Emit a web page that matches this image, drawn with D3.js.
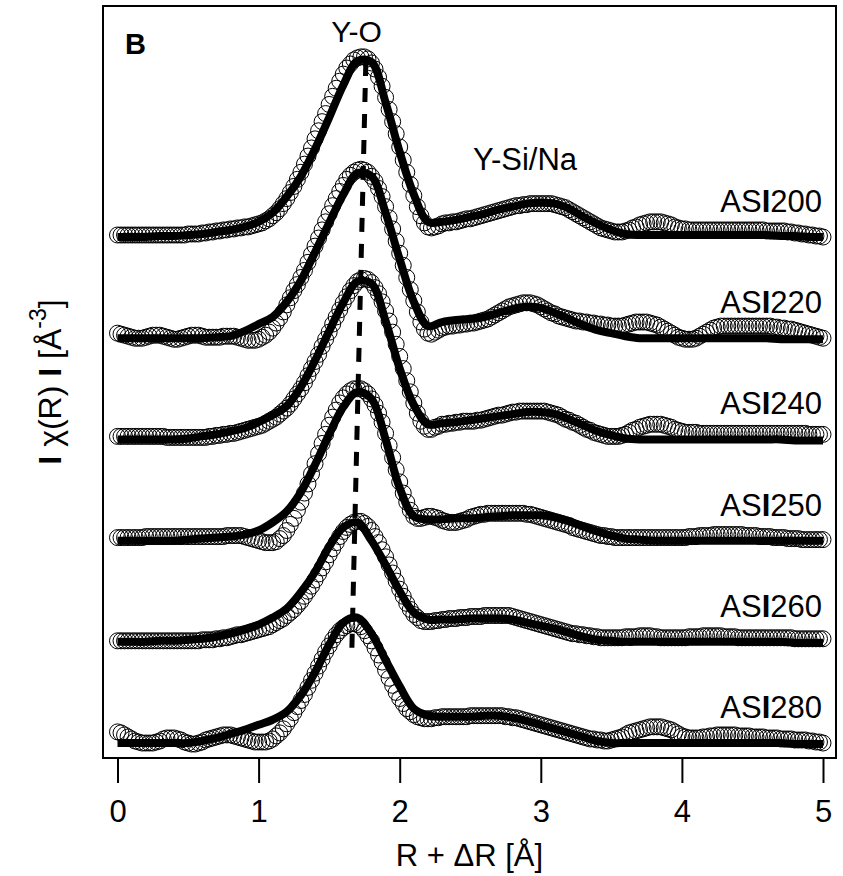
<!DOCTYPE html>
<html>
<head>
<meta charset="utf-8">
<script src="https://cdn.jsdelivr.net/npm/d3@7"></script>
<style>
  body { margin: 0; background: #fff; }
  text { font-family: "Liberation Sans", Arial, Helvetica, sans-serif; fill: #000; }
</style>
</head>
<body>
<svg id="chart" width="843" height="876"></svg>
<script>
// sample names, vertical offsets of each trace and x ticks
var samples = ['ASI200', 'ASI220', 'ASI240', 'ASI250', 'ASI260', 'ASI280']
var offsets = [5, 4, 3, 2, 1, 0]
var xTicks = [0, 1, 2, 3, 4, 5]

// R grids: measured points every 0.025 A, fit every 0.1 A
var rData = d3.range(201).map(i => i * 0.025)
var rFit = d3.range(51).map(i => i * 0.1)

var data200 = [0.02,0.02,0.02,0.02,0.02,0.02,0.02,0.02,0.02,0.02,
  0.02,0.02,0.02,0.02,0.02,0.02,0.02,0.02,0.02,0.02,
  0.03,0.03,0.03,0.03,0.04,0.04,0.05,0.05,0.06,0.06,
  0.07,0.07,0.08,0.08,0.09,0.09,0.10,0.10,0.11,0.12,
  0.13,0.14,0.16,0.18,0.21,0.24,0.28,0.33,0.38,0.44,
  0.50,0.57,0.64,0.72,0.80,0.88,0.97,1.05,1.14,1.22,
  1.31,1.39,1.47,1.54,1.61,1.67,1.71,1.75,1.77,1.78,
  1.78,1.76,1.72,1.66,1.58,1.49,1.38,1.26,1.14,1.02,
  0.89,0.76,0.64,0.52,0.41,0.30,0.21,0.14,0.10,0.09,
  0.10,0.11,0.13,0.14,0.14,0.15,0.15,0.16,0.17,0.18,
  0.18,0.19,0.20,0.21,0.22,0.23,0.24,0.25,0.26,0.27,
  0.28,0.29,0.30,0.31,0.31,0.32,0.32,0.33,0.33,0.33,
  0.33,0.33,0.33,0.33,0.32,0.31,0.30,0.29,0.27,0.25,
  0.23,0.21,0.19,0.17,0.15,0.13,0.11,0.09,0.08,0.07,
  0.06,0.05,0.05,0.05,0.06,0.07,0.09,0.10,0.12,0.13,
  0.14,0.15,0.15,0.15,0.15,0.14,0.13,0.12,0.10,0.09,
  0.08,0.08,0.07,0.07,0.07,0.07,0.07,0.07,0.07,0.07,
  0.07,0.07,0.07,0.07,0.07,0.07,0.07,0.07,0.07,0.07,
  0.07,0.07,0.07,0.07,0.06,0.06,0.06,0.06,0.06,0.06,
  0.05,0.05,0.04,0.04,0.03,0.03,0.02,0.02,0.01,0.01,
  0.00]
var data220 = [0.05,0.04,0.03,0.02,0.01,0.00,0.00,0.00,0.01,0.02,
  0.03,0.03,0.03,0.02,0.01,0.00,-0.01,-0.01,0.00,0.01,
  0.02,0.03,0.03,0.03,0.02,0.01,0.01,0.01,0.01,0.01,
  0.02,0.02,0.02,0.02,0.01,0.00,-0.01,-0.02,-0.02,-0.02,
  -0.01,0.01,0.03,0.06,0.10,0.15,0.20,0.26,0.33,0.40,
  0.47,0.53,0.60,0.67,0.75,0.83,0.91,0.99,1.07,1.15,
  1.23,1.31,1.38,1.45,1.51,1.57,1.61,1.64,1.66,1.67,
  1.66,1.64,1.60,1.55,1.48,1.40,1.30,1.19,1.08,0.96,
  0.84,0.72,0.60,0.48,0.37,0.26,0.16,0.09,0.05,0.04,
  0.06,0.08,0.10,0.11,0.12,0.12,0.13,0.13,0.14,0.14,
  0.15,0.15,0.16,0.17,0.18,0.19,0.21,0.23,0.25,0.27,
  0.29,0.31,0.32,0.33,0.34,0.35,0.35,0.35,0.34,0.33,
  0.31,0.29,0.27,0.25,0.24,0.22,0.21,0.20,0.19,0.18,
  0.17,0.17,0.16,0.16,0.15,0.15,0.14,0.14,0.13,0.13,
  0.12,0.12,0.12,0.12,0.13,0.14,0.15,0.16,0.16,0.16,
  0.16,0.15,0.14,0.13,0.11,0.09,0.07,0.05,0.03,0.01,
  0.00,-0.01,-0.01,-0.01,0.00,0.02,0.04,0.06,0.08,0.10,
  0.11,0.12,0.12,0.12,0.12,0.12,0.12,0.12,0.12,0.12,
  0.12,0.12,0.12,0.12,0.12,0.12,0.11,0.11,0.10,0.10,
  0.09,0.09,0.08,0.07,0.06,0.05,0.04,0.03,0.02,0.01,
  0.00]
var data240 = [0.03,0.03,0.03,0.03,0.03,0.03,0.03,0.03,0.03,0.03,
  0.03,0.03,0.03,0.03,0.02,0.02,0.02,0.02,0.02,0.02,
  0.02,0.02,0.02,0.02,0.02,0.02,0.03,0.03,0.04,0.04,
  0.05,0.05,0.06,0.06,0.07,0.08,0.09,0.10,0.11,0.12,
  0.13,0.14,0.16,0.18,0.20,0.22,0.25,0.28,0.31,0.35,
  0.40,0.45,0.50,0.56,0.63,0.70,0.77,0.84,0.92,0.99,
  1.06,1.14,1.21,1.28,1.35,1.41,1.47,1.52,1.56,1.58,
  1.59,1.58,1.55,1.50,1.44,1.36,1.27,1.17,1.06,0.94,
  0.82,0.70,0.58,0.47,0.36,0.26,0.18,0.13,0.10,0.10,
  0.12,0.13,0.15,0.15,0.16,0.16,0.17,0.17,0.18,0.18,
  0.18,0.18,0.19,0.19,0.20,0.21,0.22,0.23,0.24,0.24,
  0.25,0.26,0.27,0.27,0.28,0.28,0.28,0.28,0.28,0.28,
  0.28,0.28,0.27,0.26,0.25,0.24,0.22,0.20,0.19,0.17,
  0.16,0.14,0.12,0.10,0.09,0.07,0.06,0.05,0.04,0.03,
  0.03,0.03,0.03,0.04,0.05,0.07,0.09,0.10,0.12,0.13,
  0.14,0.15,0.15,0.15,0.15,0.14,0.13,0.12,0.10,0.09,
  0.08,0.07,0.07,0.07,0.07,0.06,0.06,0.06,0.06,0.06,
  0.06,0.06,0.06,0.06,0.06,0.06,0.06,0.06,0.06,0.06,
  0.06,0.06,0.06,0.06,0.06,0.06,0.06,0.06,0.06,0.06,
  0.06,0.06,0.06,0.06,0.06,0.06,0.05,0.05,0.05,0.05,
  0.05]
var data250 = [0.03,0.03,0.03,0.03,0.03,0.03,0.03,0.03,0.04,0.04,
  0.04,0.04,0.04,0.04,0.04,0.04,0.04,0.04,0.04,0.04,
  0.04,0.04,0.04,0.04,0.04,0.04,0.04,0.04,0.04,0.04,
  0.04,0.05,0.05,0.05,0.05,0.05,0.04,0.03,0.02,0.01,
  0.00,-0.01,-0.02,-0.02,-0.02,-0.01,0.02,0.05,0.10,0.16,
  0.22,0.30,0.38,0.47,0.56,0.66,0.76,0.86,0.96,1.05,
  1.14,1.22,1.29,1.36,1.41,1.45,1.48,1.50,1.50,1.50,
  1.48,1.45,1.40,1.34,1.26,1.17,1.06,0.94,0.82,0.70,
  0.58,0.47,0.38,0.30,0.24,0.22,0.22,0.23,0.24,0.24,
  0.23,0.22,0.20,0.19,0.18,0.18,0.18,0.19,0.20,0.21,
  0.23,0.24,0.25,0.26,0.26,0.27,0.27,0.27,0.27,0.27,
  0.27,0.27,0.27,0.27,0.27,0.27,0.26,0.26,0.25,0.24,
  0.23,0.22,0.21,0.20,0.19,0.18,0.17,0.16,0.15,0.13,
  0.12,0.11,0.10,0.09,0.08,0.07,0.06,0.05,0.05,0.04,
  0.04,0.03,0.03,0.03,0.03,0.03,0.03,0.03,0.03,0.03,
  0.03,0.03,0.03,0.03,0.03,0.03,0.03,0.03,0.03,0.03,
  0.03,0.03,0.04,0.04,0.04,0.05,0.05,0.05,0.05,0.06,
  0.06,0.06,0.06,0.06,0.06,0.06,0.06,0.06,0.05,0.05,
  0.05,0.05,0.04,0.04,0.04,0.04,0.03,0.03,0.03,0.03,
  0.02,0.02,0.02,0.02,0.01,0.01,0.01,0.01,0.01,0.01,
  0.01]
var data260 = [0.01,0.01,0.01,0.01,0.01,0.01,0.01,0.01,0.01,0.01,
  0.01,0.01,0.01,0.01,0.01,0.01,0.01,0.01,0.01,0.01,
  0.01,0.01,0.01,0.01,0.02,0.02,0.02,0.02,0.03,0.03,
  0.04,0.04,0.05,0.06,0.07,0.07,0.08,0.09,0.10,0.11,
  0.12,0.13,0.14,0.15,0.17,0.19,0.21,0.23,0.26,0.29,
  0.32,0.36,0.40,0.45,0.50,0.55,0.61,0.67,0.73,0.79,
  0.86,0.92,0.98,1.04,1.09,1.13,1.16,1.18,1.19,1.19,
  1.17,1.14,1.10,1.04,0.98,0.91,0.84,0.76,0.68,0.60,
  0.52,0.45,0.38,0.32,0.27,0.24,0.21,0.20,0.20,0.20,
  0.21,0.21,0.22,0.22,0.23,0.23,0.23,0.24,0.24,0.24,
  0.25,0.25,0.25,0.25,0.26,0.26,0.26,0.26,0.26,0.26,
  0.26,0.26,0.25,0.24,0.23,0.22,0.21,0.20,0.19,0.18,
  0.17,0.16,0.15,0.14,0.13,0.12,0.11,0.10,0.09,0.08,
  0.08,0.07,0.07,0.06,0.06,0.05,0.05,0.04,0.04,0.04,
  0.04,0.04,0.04,0.04,0.05,0.05,0.05,0.05,0.06,0.06,
  0.06,0.06,0.05,0.05,0.04,0.04,0.04,0.04,0.04,0.04,
  0.04,0.04,0.05,0.05,0.05,0.05,0.06,0.06,0.06,0.06,
  0.06,0.06,0.05,0.05,0.05,0.05,0.04,0.04,0.04,0.04,
  0.04,0.04,0.04,0.04,0.04,0.04,0.04,0.04,0.04,0.04,
  0.04,0.04,0.03,0.03,0.03,0.03,0.03,0.03,0.03,0.03,
  0.03]
var data280 = [0.11,0.10,0.08,0.06,0.04,0.02,0.01,0.00,0.00,0.00,
  0.00,0.01,0.02,0.04,0.05,0.05,0.05,0.04,0.03,0.01,
  0.00,-0.01,-0.01,0.00,0.01,0.03,0.04,0.05,0.06,0.07,
  0.08,0.08,0.08,0.07,0.06,0.05,0.04,0.03,0.02,0.01,
  0.01,0.01,0.01,0.02,0.04,0.07,0.10,0.14,0.19,0.24,
  0.30,0.36,0.42,0.48,0.55,0.62,0.69,0.76,0.83,0.90,
  0.96,1.02,1.07,1.11,1.14,1.16,1.18,1.18,1.17,1.15,
  1.11,1.06,1.01,0.94,0.87,0.80,0.72,0.64,0.57,0.50,
  0.44,0.39,0.34,0.31,0.28,0.26,0.25,0.24,0.24,0.24,
  0.25,0.25,0.26,0.26,0.26,0.26,0.26,0.26,0.26,0.26,
  0.27,0.27,0.27,0.27,0.27,0.27,0.27,0.27,0.27,0.27,
  0.26,0.26,0.25,0.25,0.24,0.23,0.22,0.21,0.20,0.19,
  0.18,0.17,0.16,0.15,0.14,0.13,0.12,0.11,0.10,0.09,
  0.08,0.07,0.06,0.05,0.04,0.04,0.03,0.03,0.02,0.02,
  0.03,0.04,0.05,0.06,0.08,0.10,0.11,0.12,0.13,0.14,
  0.15,0.16,0.16,0.16,0.16,0.15,0.14,0.13,0.11,0.09,
  0.07,0.06,0.05,0.05,0.05,0.05,0.06,0.06,0.07,0.07,
  0.08,0.08,0.08,0.08,0.08,0.08,0.07,0.07,0.07,0.07,
  0.06,0.06,0.06,0.06,0.05,0.05,0.05,0.05,0.04,0.04,
  0.04,0.04,0.03,0.03,0.03,0.03,0.02,0.02,0.01,0.01,
  0.00]

// fitted |chi(R)| (thick line)
var fit200 = [0.00,0.00,0.00,0.01,0.01,0.02,0.03,0.05,0.07,0.10,
  0.15,0.24,0.40,0.60,0.87,1.18,1.50,1.74,1.73,1.33,
  0.84,0.42,0.15,0.15,0.17,0.20,0.23,0.27,0.30,0.33,
  0.34,0.33,0.28,0.20,0.13,0.07,0.03,0.02,0.02,0.02,
  0.02,0.02,0.02,0.02,0.02,0.02,0.02,0.01,0.01,0.00,
  0.00]
var fit220 = [0.00,0.00,0.00,0.00,0.00,0.00,0.00,0.01,0.02,0.07,
  0.14,0.21,0.36,0.57,0.85,1.14,1.42,1.63,1.60,1.24,
  0.78,0.36,0.12,0.16,0.18,0.19,0.21,0.25,0.29,0.31,
  0.30,0.25,0.19,0.13,0.08,0.05,0.02,0.00,0.00,0.00,
  0.00,0.00,0.00,0.00,0.00,0.00,0.00,-0.01,-0.01,-0.01,
  -0.01]
var fit240 = [0.00,0.00,0.00,0.00,0.00,0.01,0.03,0.05,0.08,0.11,
  0.17,0.24,0.33,0.52,0.78,1.07,1.35,1.56,1.54,1.17,
  0.70,0.34,0.15,0.16,0.17,0.19,0.21,0.23,0.25,0.27,
  0.27,0.25,0.20,0.14,0.08,0.04,0.01,0.00,0.00,0.00,
  0.00,0.00,0.00,0.00,0.00,0.00,0.00,0.00,-0.01,-0.01,
  -0.01]
var fit250 = [0.00,0.00,0.00,0.00,0.00,0.01,0.02,0.03,0.04,0.06,
  0.10,0.18,0.29,0.48,0.75,1.05,1.32,1.47,1.40,1.00,
  0.52,0.24,0.21,0.21,0.22,0.22,0.23,0.24,0.25,0.25,
  0.25,0.23,0.19,0.14,0.09,0.05,0.02,0.01,0.00,0.00,
  0.00,0.00,0.00,0.00,0.00,0.00,0.00,0.00,0.00,0.00,
  0.00]
var fit260 = [0.00,0.00,0.00,0.01,0.01,0.02,0.03,0.05,0.08,0.12,
  0.17,0.24,0.33,0.49,0.69,0.94,1.13,1.18,1.00,0.76,
  0.50,0.29,0.22,0.22,0.22,0.23,0.23,0.23,0.22,0.19,
  0.16,0.13,0.09,0.05,0.02,0.01,0.00,0.00,0.00,0.00,
  0.00,0.00,0.00,0.00,0.00,0.00,0.00,0.00,-0.01,-0.01,
  -0.01]
var fit280 = [0.00,0.00,0.00,0.00,0.00,0.00,0.02,0.05,0.09,0.13,
  0.18,0.23,0.31,0.47,0.70,0.97,1.19,1.24,1.08,0.82,
  0.56,0.34,0.27,0.26,0.26,0.26,0.27,0.27,0.25,0.22,
  0.18,0.14,0.10,0.06,0.02,0.00,0.00,0.00,0.00,0.00,
  0.00,0.00,0.00,0.00,0.00,0.00,0.00,0.00,-0.01,-0.01,
  -0.01]

var measured = [data200, data220, data240, data250, data260, data280]
var fitted = [fit200, fit220, fit240, fit250, fit260, fit280]

// dashed guide through the Y-O maxima (top, bottom)
var peakLineR = [1.76, 1.66]
var peakLineY = [6.73, 0.87]

// sizing
var width = 843
var height = 876
var margin = {top: 6, right: 7, bottom: 118, left: 103}

var svg = d3.select('#chart')

var xScale = d3.scaleLinear()
            .domain([0, 5])
            .range([117.5, 823])
var yScale = d3.scaleLinear()
            .domain([-0.148, 7.283])
            .range([height - margin.bottom, margin.top])

// frame
svg.append('rect')
    .attr('x', margin.left)
    .attr('y', margin.top)
    .attr('width', width - margin.left - margin.right)
    .attr('height', height - margin.top - margin.bottom)
    .attr('fill', 'none')
    .attr('stroke', '#000')
    .attr('stroke-width', 2)

// x axis
var xGuide = svg.append('g')
    .attr('transform', `translate(0,${height - margin.bottom})`)
    .call(d3.axisBottom(xScale).tickValues(xTicks).tickFormat(d3.format('d'))
        .tickSize(25).tickPadding(17))
xGuide.select('.domain').remove()
xGuide.selectAll('line').attr('stroke', '#000').attr('stroke-width', 2)
xGuide.selectAll('text').attr('font-size', 31)
    .style('font-family', '"Liberation Sans", Arial, sans-serif')

svg.append('text')
    .attr('x', (margin.left + width - margin.right) / 2)
    .attr('y', 866)
    .attr('text-anchor', 'middle')
    .attr('font-size', 31)
    .text('R + ΔR [Å]')

// y label
var yLab = svg.append('text')
    .attr('transform', `translate(61,${(margin.top + height - margin.bottom) / 2}) rotate(-90)`)
    .attr('text-anchor', 'middle')
    .attr('font-size', 32)
yLab.append('tspan').attr('font-weight', 'bold').text('I')
yLab.append('tspan').text(' χ(R) ')
yLab.append('tspan').attr('font-weight', 'bold').text('I')
yLab.append('tspan').text(' [Å')
yLab.append('tspan').attr('dy', -15).attr('font-size', 23).text('-3')
yLab.append('tspan').attr('dy', 15).text(']')

// traces
var fitLine = d3.line()
            .x((d) => xScale(d[0]))
            .y((d) => yScale(d[1]))
            .curve(d3.curveCatmullRom.alpha(0.5))

samples.forEach( (name, i) => {
    var g = svg.append('g')
    g.selectAll('circle')
        .data(rData.map( (r, j) => [r, measured[i][j] + offsets[i]] ))
        .enter().append('circle')
        .attr('cx', d => xScale(d[0]))
        .attr('cy', d => yScale(d[1]))
        .attr('r', 8)
        .attr('fill', 'none')
        .attr('stroke', '#000')
        .attr('stroke-width', 1)

    g.append('path')
        .attr('d', fitLine(rFit.map( (r, j) => [r, fitted[i][j] + offsets[i]] )))
        .attr('fill', 'none')
        .attr('stroke', '#000')
        .attr('stroke-width', 8)
        .attr('stroke-linejoin', 'round')

    var lab = g.append('text')
        .attr('x', 822)
        .attr('y', yScale(offsets[i]) - 25)
        .attr('text-anchor', 'end')
        .attr('font-size', 31)
    lab.append('tspan').text(name.slice(0, 2))
    lab.append('tspan').attr('font-weight', 'bold').text(name.slice(2, 3))
    lab.append('tspan').text(name.slice(3))
})

// dashed peak guide
svg.append('path')
    .attr('d', d3.line()(peakLineR.map( (r, j) => [xScale(r), yScale(peakLineY[j])] )))
    .attr('stroke', '#000')
    .attr('stroke-width', 5)
    .attr('stroke-dasharray', '14,12')
    .attr('fill', 'none')

// annotations
svg.append('text')
    .attr('x', 125)
    .attr('y', 54)
    .attr('font-size', 29)
    .attr('font-weight', 'bold')
    .text('B')
svg.append('text')
    .attr('x', xScale(1.695))
    .attr('y', yScale(6.93))
    .attr('text-anchor', 'middle')
    .attr('font-size', 30)
    .text('Y-O')
svg.append('text')
    .attr('x', xScale(2.52))
    .attr('y', yScale(5.66))
    .attr('font-size', 31)
    .text('Y-Si/Na')
</script>
</body>
</html>
